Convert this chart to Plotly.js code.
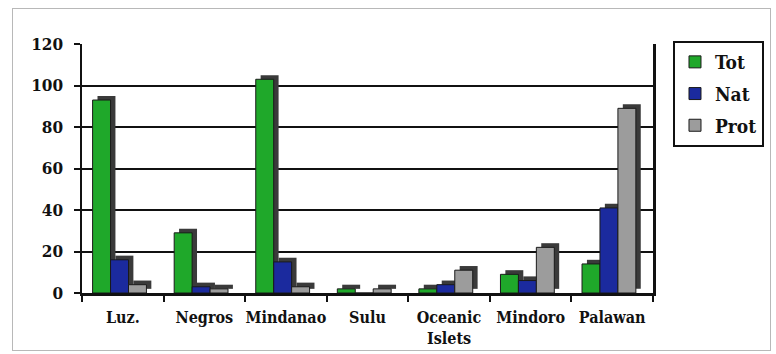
<!DOCTYPE html>
<html>
<head>
<meta charset="utf-8">
<script src="https://cdn.plot.ly/plotly-3.0.1.min.js"></script>
<style>
  html, body { margin: 0; padding: 0; background: #fff; }
  #wrap { position: relative; width: 776px; height: 354px; }
  #chart { position: absolute; left: 0; top: 0; width: 776px; height: 354px; }
  #frame { position: absolute; left: 12px; top: 8px; width: 757px; height: 341px;
           border: 1px solid #b8b8b8; pointer-events: none; }
</style>
</head>
<body>
<div id="wrap">
  <div id="chart"></div>
  <div id="frame"></div>
</div>
<script>
// Island groups on the category axis
const regions = ['Luz.', 'Negros', 'Mindanao', 'Sulu', 'Oceanic<br>Islets', 'Mindoro', 'Palawan'];

// Counts per island group
const totValues  = [93, 29, 103, 2, 2, 9, 14];
const natValues  = [16, 3, 15, 0, 4, 6, 41];
const protValues = [4, 2, 3, 2, 11, 22, 89];

const seriesNames = ['Tot', 'Nat', 'Prot'];
const yTicks = [0, 20, 40, 60, 80, 100, 120];

const faceColors = ['#1fa82a', '#1b2a9e', '#9c9c9c'];
const sideColor = '#3a3a3a';
const barWidth = 0.22;
const barOffsets = [-0.37, -0.15, 0.07];
const depthShift = 0.06;   // sideways shift of the depth block, category units
const depthLift = 2;       // vertical lift of the depth block, axis units

const seriesValues = [totValues, natValues, protValues];
const traces = [];
seriesValues.forEach(function (vals, i) {
  // darker block behind each column gives the extruded look
  traces.push({
    type: 'bar', x: regions, y: vals, base: depthLift,
    width: barWidth, offset: barOffsets[i] + depthShift,
    marker: { color: sideColor, line: { width: 0 } },
    showlegend: false, hoverinfo: 'skip'
  });
  traces.push({
    type: 'bar', name: seriesNames[i], x: regions, y: vals,
    width: barWidth, offset: barOffsets[i],
    legendgroup: seriesNames[i],
    marker: { color: faceColors[i], line: { color: '#1a1a1a', width: 1 } }
  });
});

const serif = '"DejaVu Serif Condensed", "DejaVu Serif", serif';

const layout = {
  width: 776, height: 354,
  margin: { l: 82, r: 121, t: 44, b: 61 },
  paper_bgcolor: '#ffffff', plot_bgcolor: '#ffffff',
  barmode: 'overlay',
  showlegend: true,
  legend: {
    x: 1.035, y: 1.012, xanchor: 'left', yanchor: 'top',
    bordercolor: '#111', borderwidth: 2, bgcolor: '#fff',
    font: { family: serif, size: 19, color: '#111', weight: 700 },
    traceorder: 'grouped', tracegroupgap: 4, itemwidth: 30
  },
  xaxis: {
    type: 'category', showline: true, linecolor: '#111', linewidth: 2.5,
    ticks: 'outside', tickson: 'boundaries', ticklen: 6, tickwidth: 2, tickcolor: '#111',
    showgrid: false, tickangle: 0, ticklabelstandoff: 8,
    tickfont: { family: serif, size: 16, color: '#111', weight: 700 }
  },
  yaxis: {
    range: [0, 120], tickvals: yTicks, ticktext: yTicks.map(String),
    showline: true, linecolor: '#111', linewidth: 2.5, mirror: true,
    showgrid: true, gridcolor: '#111', gridwidth: 2, zeroline: false,
    ticks: 'outside', ticklen: 6, tickwidth: 2, tickcolor: '#111',
    ticklabelstandoff: 7,
    tickfont: { family: serif, size: 17, color: '#111', weight: 700 }
  }
};

Plotly.newPlot('chart', traces, layout, { displayModeBar: false, staticPlot: true });
</script>
</body>
</html>
